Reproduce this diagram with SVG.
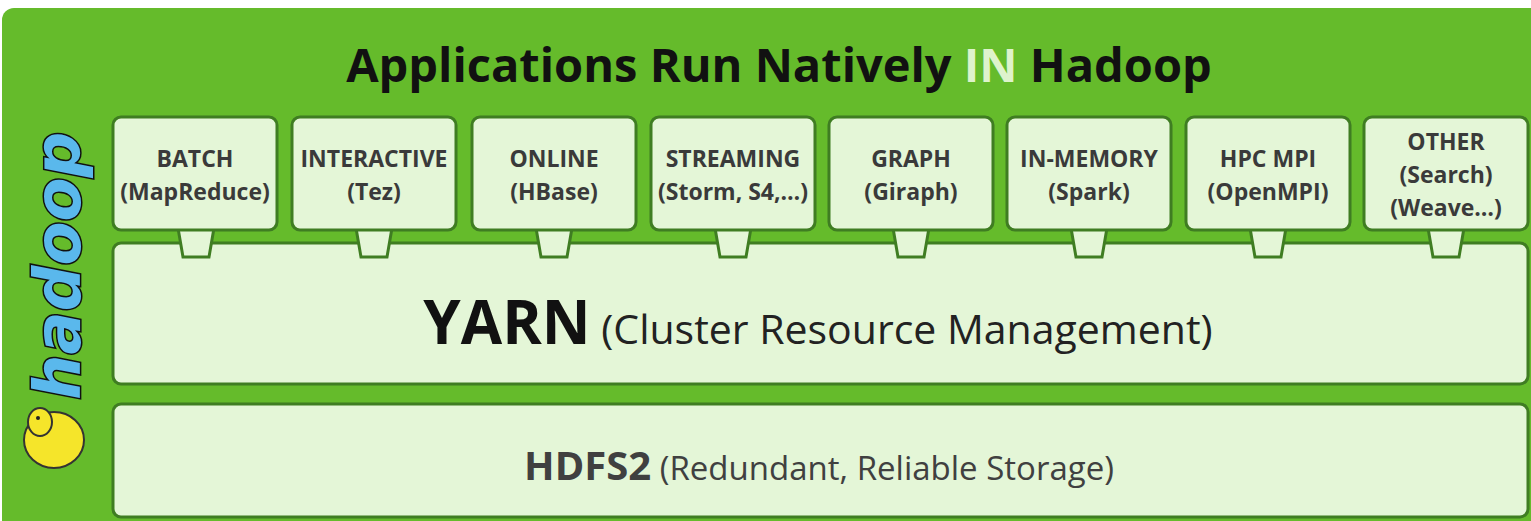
<svg xmlns="http://www.w3.org/2000/svg" width="1531" height="521" viewBox="0 0 1531 521">
<style>
.box{fill:#e4f6d7;stroke:#3f7d22;stroke-width:3}
.lbl{font-family:"Open Sans",sans-serif;font-weight:bold;font-size:23px;fill:#3a3a3a;text-anchor:middle}
</style>
<defs>
<g id="tab"><path d="M-18,228 L-13,257 L13,257 L18,228 Z" class="box"/><rect x="-16" y="226" width="32" height="4" fill="#e4f6d7"/></g>
</defs>
<rect x="0" y="0" width="1531" height="521" fill="#ffffff"/>
<rect x="2" y="8" width="1540" height="530" rx="12" fill="#65bb2b"/>
<text x="779" y="82" font-family="'Open Sans',sans-serif" font-weight="bold" font-size="47" fill="#111" text-anchor="middle">Applications Run Natively <tspan fill="#def3cc">IN</tspan> Hadoop</text>
<g id="yarn"><rect class="box" x="113" y="243" width="1415" height="141" rx="8"/>
<text x="818" y="344" text-anchor="middle" font-family="'Open Sans',sans-serif" fill="#111"><tspan font-weight="bold" font-size="60">YARN</tspan><tspan font-size="41" fill="#222"> (Cluster Resource Management)</tspan></text></g>
<g id="hdfs"><rect class="box" x="113" y="404" width="1415" height="113" rx="8"/>
<text x="819" y="480" text-anchor="middle" font-family="'Open Sans',sans-serif" fill="#404040"><tspan font-weight="bold" font-size="40">HDFS2</tspan><tspan font-size="33"> (Redundant, Reliable Storage)</tspan></text></g>
<g id="connectors">
<use href="#tab" x="196"/><use href="#tab" x="374"/><use href="#tab" x="554"/><use href="#tab" x="733"/><use href="#tab" x="911"/><use href="#tab" x="1089"/><use href="#tab" x="1268"/><use href="#tab" x="1446"/>
</g>
<g id="batch"><rect class="box" x="113" y="117" width="164" height="113" rx="8"/><text class="lbl" x="195" y="167">BATCH</text><text class="lbl" x="195" y="200">(MapReduce)</text></g>
<g id="interactive"><rect class="box" x="292" y="117" width="164" height="113" rx="8"/><text class="lbl" x="374" y="167">INTERACTIVE</text><text class="lbl" x="374" y="200">(Tez)</text></g>
<g id="online"><rect class="box" x="472" y="117" width="164" height="113" rx="8"/><text class="lbl" x="554" y="167">ONLINE</text><text class="lbl" x="554" y="200">(HBase)</text></g>
<g id="streaming"><rect class="box" x="651" y="117" width="164" height="113" rx="8"/><text class="lbl" x="733" y="167">STREAMING</text><text class="lbl" x="733" y="200">(Storm, S4,…)</text></g>
<g id="graph"><rect class="box" x="829" y="117" width="164" height="113" rx="8"/><text class="lbl" x="911" y="167">GRAPH</text><text class="lbl" x="911" y="200">(Giraph)</text></g>
<g id="inmemory"><rect class="box" x="1007" y="117" width="164" height="113" rx="8"/><text class="lbl" x="1089" y="167">IN-MEMORY</text><text class="lbl" x="1089" y="200">(Spark)</text></g>
<g id="hpc"><rect class="box" x="1186" y="117" width="164" height="113" rx="8"/><text class="lbl" x="1268" y="167">HPC MPI</text><text class="lbl" x="1268" y="200">(OpenMPI)</text></g>
<g id="other"><rect class="box" x="1364" y="117" width="164" height="113" rx="8"/><text class="lbl" x="1446" y="150">OTHER</text><text class="lbl" x="1446" y="183">(Search)</text><text class="lbl" x="1446" y="216">(Weave…)</text></g>
<g id="logo">
<text transform="translate(80,400) rotate(-90)" font-family="'DejaVu Sans',sans-serif" font-weight="bold" font-style="italic" font-size="64" fill="#5ab8ec" stroke="#111" stroke-width="3" paint-order="stroke">hadoop</text>
<ellipse cx="54" cy="440" rx="30" ry="28" fill="#f5e52a" stroke="#333" stroke-width="2"/>
<ellipse cx="40" cy="422" rx="12" ry="14" fill="#f5e52a" stroke="#333" stroke-width="2"/>
<circle cx="38" cy="418" r="2" fill="#222"/>
</g>
</svg>
